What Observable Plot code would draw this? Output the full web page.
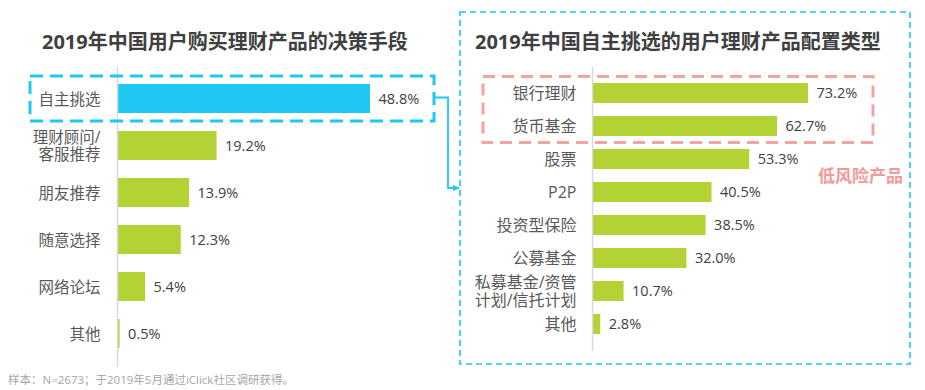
<!DOCTYPE html>
<html><head><meta charset="utf-8">
<script src="https://cdn.jsdelivr.net/npm/d3@7"></script>
<script src="https://cdn.jsdelivr.net/npm/@observablehq/plot@0.6"></script>
<style>
html,body{margin:0;padding:0;background:#fff;}
#wrap{position:relative;width:925px;height:390px;overflow:hidden;font-family:"Open Sans","Noto Sans CJK SC",sans-serif;}
.ttl{position:absolute;font-size:20px;font-weight:bold;color:#404040;white-space:nowrap;line-height:1;}
.note{position:absolute;left:8px;top:374px;font-size:11.5px;color:#a6a6a6;white-space:nowrap;line-height:1;}
.pl{position:absolute;top:0;}
#ov{position:absolute;left:0;top:0;pointer-events:none;}
</style></head>
<body><div id="wrap"></div>
<script>
// ---- data ----
const leftTitle = "2019年中国用户购买理财产品的决策手段";
const leftCats = ["自主挑选","理财顾问/\n客服推荐","朋友推荐","随意选择","网络论坛","其他"];
const leftVals = [48.8,19.2,13.9,12.3,5.4,0.5];
const rightTitle = "2019年中国自主挑选的用户理财产品配置类型";
const rightCats = ["银行理财","货币基金","股票","P2P","投资型保险","公募基金","私募基金/资管\n计划/信托计划","其他"];
const rightVals = [73.2,62.7,53.3,40.5,38.5,32.0,10.7,2.8];
const lowRiskLabel = "低风险产品";
const footnote = "样本：N=2673；于2019年5月通过iClick社区调研获得。";

const BLUE = "#1ec8f0", GREEN = "#b3d334", PINK = "#f4a3a3";
const FONT = '"Open Sans","Noto Sans CJK SC",sans-serif';
const wrap = document.getElementById("wrap");

function makeBar(cats, vals, opts) {
  const data = cats.map((c,i)=>({cat:c, value:vals[i]}));
  return Plot.plot({
    width: opts.width, height: 390,
    marginTop: opts.mt, marginBottom: opts.mb, marginLeft: opts.ml, marginRight: opts.mr,
    style: {fontFamily: FONT, background: "transparent", overflow: "visible"},
    x: {domain: [0, d3.max(vals)], axis: null},
    y: {domain: cats, padding: 0.38, axis: null},
    marks: [
      Plot.barX(data, {y: "cat", x: "value", fill: opts.fill}),
      Plot.ruleX([0], {stroke: "#d9d9d9", strokeWidth: 1.5}),
      Plot.axisY({tickSize: 0, tickPadding: opts.tp, fontSize: opts.fs, fill: "#595959", label: null, lineHeight: 1.12}),
      Plot.text(data, {y: "cat", x: "value", text: d => d.value.toFixed(1) + "%", dx: 8, textAnchor: "start", fontSize: 14.5, fill: "#404040"})
    ]
  });
}

const left = makeBar(leftCats, leftVals, {width: 460, mt: 66, mb: 23, ml: 117, mr: 90, tp: 17, fs: 15.5,
  fill: d => d.cat === leftCats[0] ? BLUE : GREEN});
left.classList.add("pl"); left.style.left = "0px";
wrap.appendChild(left);

const right = makeBar(rightCats, rightVals, {width: 465, mt: 67, mb: 39, ml: 132, mr: 117, tp: 16, fs: 16,
  fill: () => GREEN});
right.classList.add("pl"); right.style.left = "460px";
wrap.appendChild(right);

// titles and note
const t1 = document.createElement("div"); t1.className = "ttl"; t1.textContent = leftTitle;
t1.style.left = "42px"; t1.style.top = "32px"; wrap.appendChild(t1);
const t2 = document.createElement("div"); t2.className = "ttl"; t2.textContent = rightTitle;
t2.style.left = "475px"; t2.style.top = "32px"; wrap.appendChild(t2);
const nt = document.createElement("div"); nt.className = "note"; nt.textContent = footnote; wrap.appendChild(nt);

// overlay decorations
const ov = d3.select(wrap).append("svg").attr("id","ov").attr("width",925).attr("height",390);
ov.append("defs").append("marker").attr("id","arr").attr("viewBox","0 0 10 10")
  .attr("refX",9).attr("refY",5).attr("markerWidth",4).attr("markerHeight",4).attr("orient","auto")
  .append("path").attr("d","M0,0L10,5L0,10z").attr("fill",BLUE);

const ly = left.scale("y");
const lc = ly.apply(leftCats[0]) + ly.bandwidth/2;
ov.append("rect").attr("x",30).attr("y",lc - ly.step/2 + 1).attr("width",404).attr("height",ly.step - 2)
  .attr("fill","none").attr("stroke",BLUE).attr("stroke-width",3).attr("stroke-dasharray","13 7");

const ry = right.scale("y");
const r1 = ry.apply(rightCats[0]) + ry.bandwidth/2;
const r2 = ry.apply(rightCats[1]) + ry.bandwidth/2;
ov.append("rect").attr("x",483).attr("y",r1 - ry.step/2).attr("width",390).attr("height",r2 - r1 + ry.step)
  .attr("fill","none").attr("stroke",PINK).attr("stroke-width",3).attr("stroke-dasharray","12 7");

ov.append("rect").attr("x",460).attr("y",12).attr("width",450).attr("height",352)
  .attr("fill","none").attr("stroke",BLUE).attr("stroke-width",1.6).attr("stroke-dasharray","6 4");

ov.append("path").attr("d",`M434,${lc-1}H448V188H459`).attr("fill","none").attr("stroke",BLUE)
  .attr("stroke-width",1.8).attr("marker-end","url(#arr)");

ov.append("text").attr("x",903).attr("y",175).attr("text-anchor","end").attr("dominant-baseline","central")
  .attr("font-family",FONT).attr("font-size",17).attr("font-weight","bold").attr("fill","#f29a9a").text(lowRiskLabel);
</script></body></html>
